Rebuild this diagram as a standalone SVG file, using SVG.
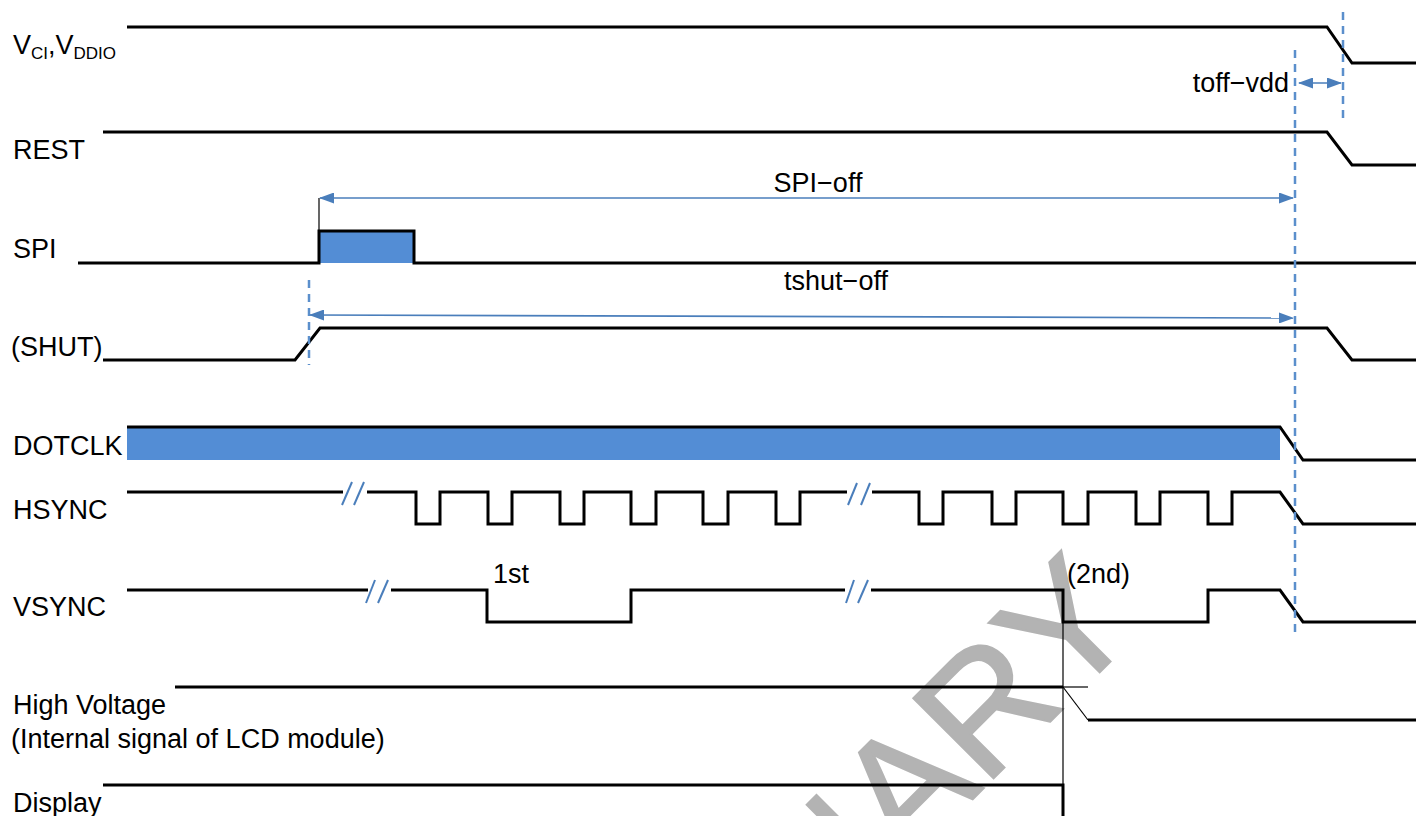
<svg xmlns="http://www.w3.org/2000/svg" width="1416" height="816" viewBox="0 0 1416 816">
<style>
.lbl{font-family:"Liberation Sans",Arial,sans-serif;font-size:27px;fill:#000}
.sig{fill:none;stroke:#000;stroke-width:3;stroke-linejoin:miter}
.thin{fill:none;stroke:#000;stroke-width:1.2}
.brk{stroke:#4A7EBB;stroke-width:2}
.dash{stroke:#5B8FCC;stroke-width:2.5;stroke-dasharray:8 6;fill:none}
.arr{stroke:#4A7EBB;stroke-width:1.6;fill:none;marker-start:url(#ah);marker-end:url(#ah)}
.wm{font-family:"Liberation Sans",Arial,sans-serif;font-size:165px;fill:#b3b3b3;stroke:#b3b3b3;stroke-width:2}
</style>
<defs>
<marker id="ah" viewBox="0 0 15 11" refX="14" refY="5.5" markerWidth="15" markerHeight="11" markerUnits="userSpaceOnUse" orient="auto-start-reverse">
<path d="M0,0 L15,5.5 L0,11 Z" fill="#4A7EBB"/>
</marker>
</defs>
<rect width="1416" height="816" fill="#fff"/>

<g id="watermark">
<text class="wm" x="0" y="0" text-anchor="end" transform="translate(1144,628) rotate(-45)">PRELIMINARY</text>
</g>

<g id="labels">
<text class="lbl" x="13" y="54">V<tspan font-size="17" dy="5">CI</tspan><tspan dy="-5">,V</tspan><tspan font-size="17" dy="5">DDIO</tspan></text>
<text class="lbl" x="13" y="159">REST</text>
<text class="lbl" x="13" y="258">SPI</text>
<text class="lbl" x="11" y="356">(SHUT)</text>
<text class="lbl" x="13" y="455">DOTCLK</text>
<text class="lbl" x="13" y="519">HSYNC</text>
<text class="lbl" x="13" y="616">VSYNC</text>
<text class="lbl" x="13" y="714">High Voltage</text>
<text class="lbl" x="11" y="748">(Internal signal of LCD module)</text>
<text class="lbl" x="13" y="812">Display</text>
<text class="lbl" x="1289" y="92" text-anchor="end">toff−vdd</text>
<text class="lbl" x="818" y="192" text-anchor="middle" font-size="25">SPI−off</text>
<text class="lbl" x="836" y="290" text-anchor="middle">tshut−off</text>
<text class="lbl" x="493" y="583">1st</text>
<text class="lbl" x="1067" y="583">(2nd)</text>
</g>

<g id="vci">
<polyline class="sig" points="127,27 1327,27 1352,63 1416,63"/>
</g>
<g id="rest">
<polyline class="sig" points="103,132 1327,132 1352,165 1416,165"/>
</g>
<g id="spi">
<rect x="319" y="231" width="95" height="32" fill="#538DD5"/>
<polyline class="sig" points="78,263 319,263 319,231 414,231 414,263 1416,263"/>
</g>
<g id="shut">
<polyline class="sig" points="103,360 295,360 320,328 1327,328 1352,360 1416,360"/>
</g>
<g id="dotclk">
<rect x="127" y="427" width="1153" height="33" fill="#538DD5"/>
<polyline class="sig" points="127,427 1280,427 1303,460 1416,460"/>
</g>
<g id="hsync">
<polyline class="sig" points="127,492 343,492"/>
<polyline class="sig" points="367,492 416,492 416,524 440,524 440,492 488,492 488,524 512,524 512,492 560,492 560,524 584,524 584,492 631,492 631,524 656,524 656,492 703,492 703,524 728,524 728,492 776,492 776,524 800,524 800,492 847,492"/>
<polyline class="sig" points="872,492 919,492 919,524 943,524 943,492 992,492 992,524 1016,524 1016,492 1063,492 1063,524 1088,524 1088,492 1136,492 1136,524 1160,524 1160,492 1208,492 1208,524 1232,524 1232,492 1280,492 1303,524 1416,524"/>
</g>
<g id="vsync">
<polyline class="sig" points="127,590 368,590"/>
<polyline class="sig" points="391,590 487,590 487,622 631,622 631,590 845,590"/>
<polyline class="sig" points="871,590 1063,590 1063,622 1208,622 1208,590 1280,590 1303,622 1416,622"/>
</g>
<g id="highvoltage">
<polyline class="sig" points="175,687 1063,687"/>
<line class="thin" x1="1063" y1="687" x2="1088" y2="687"/>
<line class="thin" x1="1063" y1="687" x2="1088" y2="720"/>
<polyline class="sig" points="1088,720 1416,720"/>
</g>
<g id="display">
<polyline class="sig" points="103,785 1063,785 1063,816"/>
</g>

<g id="connectors">
<line class="brk" x1="342" y1="505" x2="352" y2="482"/>
<line class="brk" x1="354" y1="505" x2="364" y2="482"/>
<line class="brk" x1="848" y1="505" x2="857" y2="483"/>
<line class="brk" x1="861" y1="505" x2="870" y2="483"/>
<line class="brk" x1="366" y1="603" x2="375" y2="580"/>
<line class="brk" x1="378" y1="603" x2="388" y2="580"/>
<line class="brk" x1="846" y1="603" x2="854" y2="580"/>
<line class="brk" x1="858" y1="603" x2="868" y2="580"/>
<line class="dash" x1="1295" y1="50" x2="1295" y2="632"/>
<line class="dash" x1="1343" y1="12" x2="1343" y2="118"/>
<line class="dash" x1="309" y1="280" x2="309" y2="365"/>
<line class="thin" x1="319" y1="198" x2="319" y2="231"/>
<line class="thin" x1="1063" y1="590" x2="1063" y2="816"/>
<line class="arr" x1="320" y1="198" x2="1293" y2="198"/>
<line class="arr" x1="310" y1="315" x2="1293" y2="318"/>
<line class="arr" x1="1299" y1="83" x2="1341" y2="83"/>
</g>
</svg>
